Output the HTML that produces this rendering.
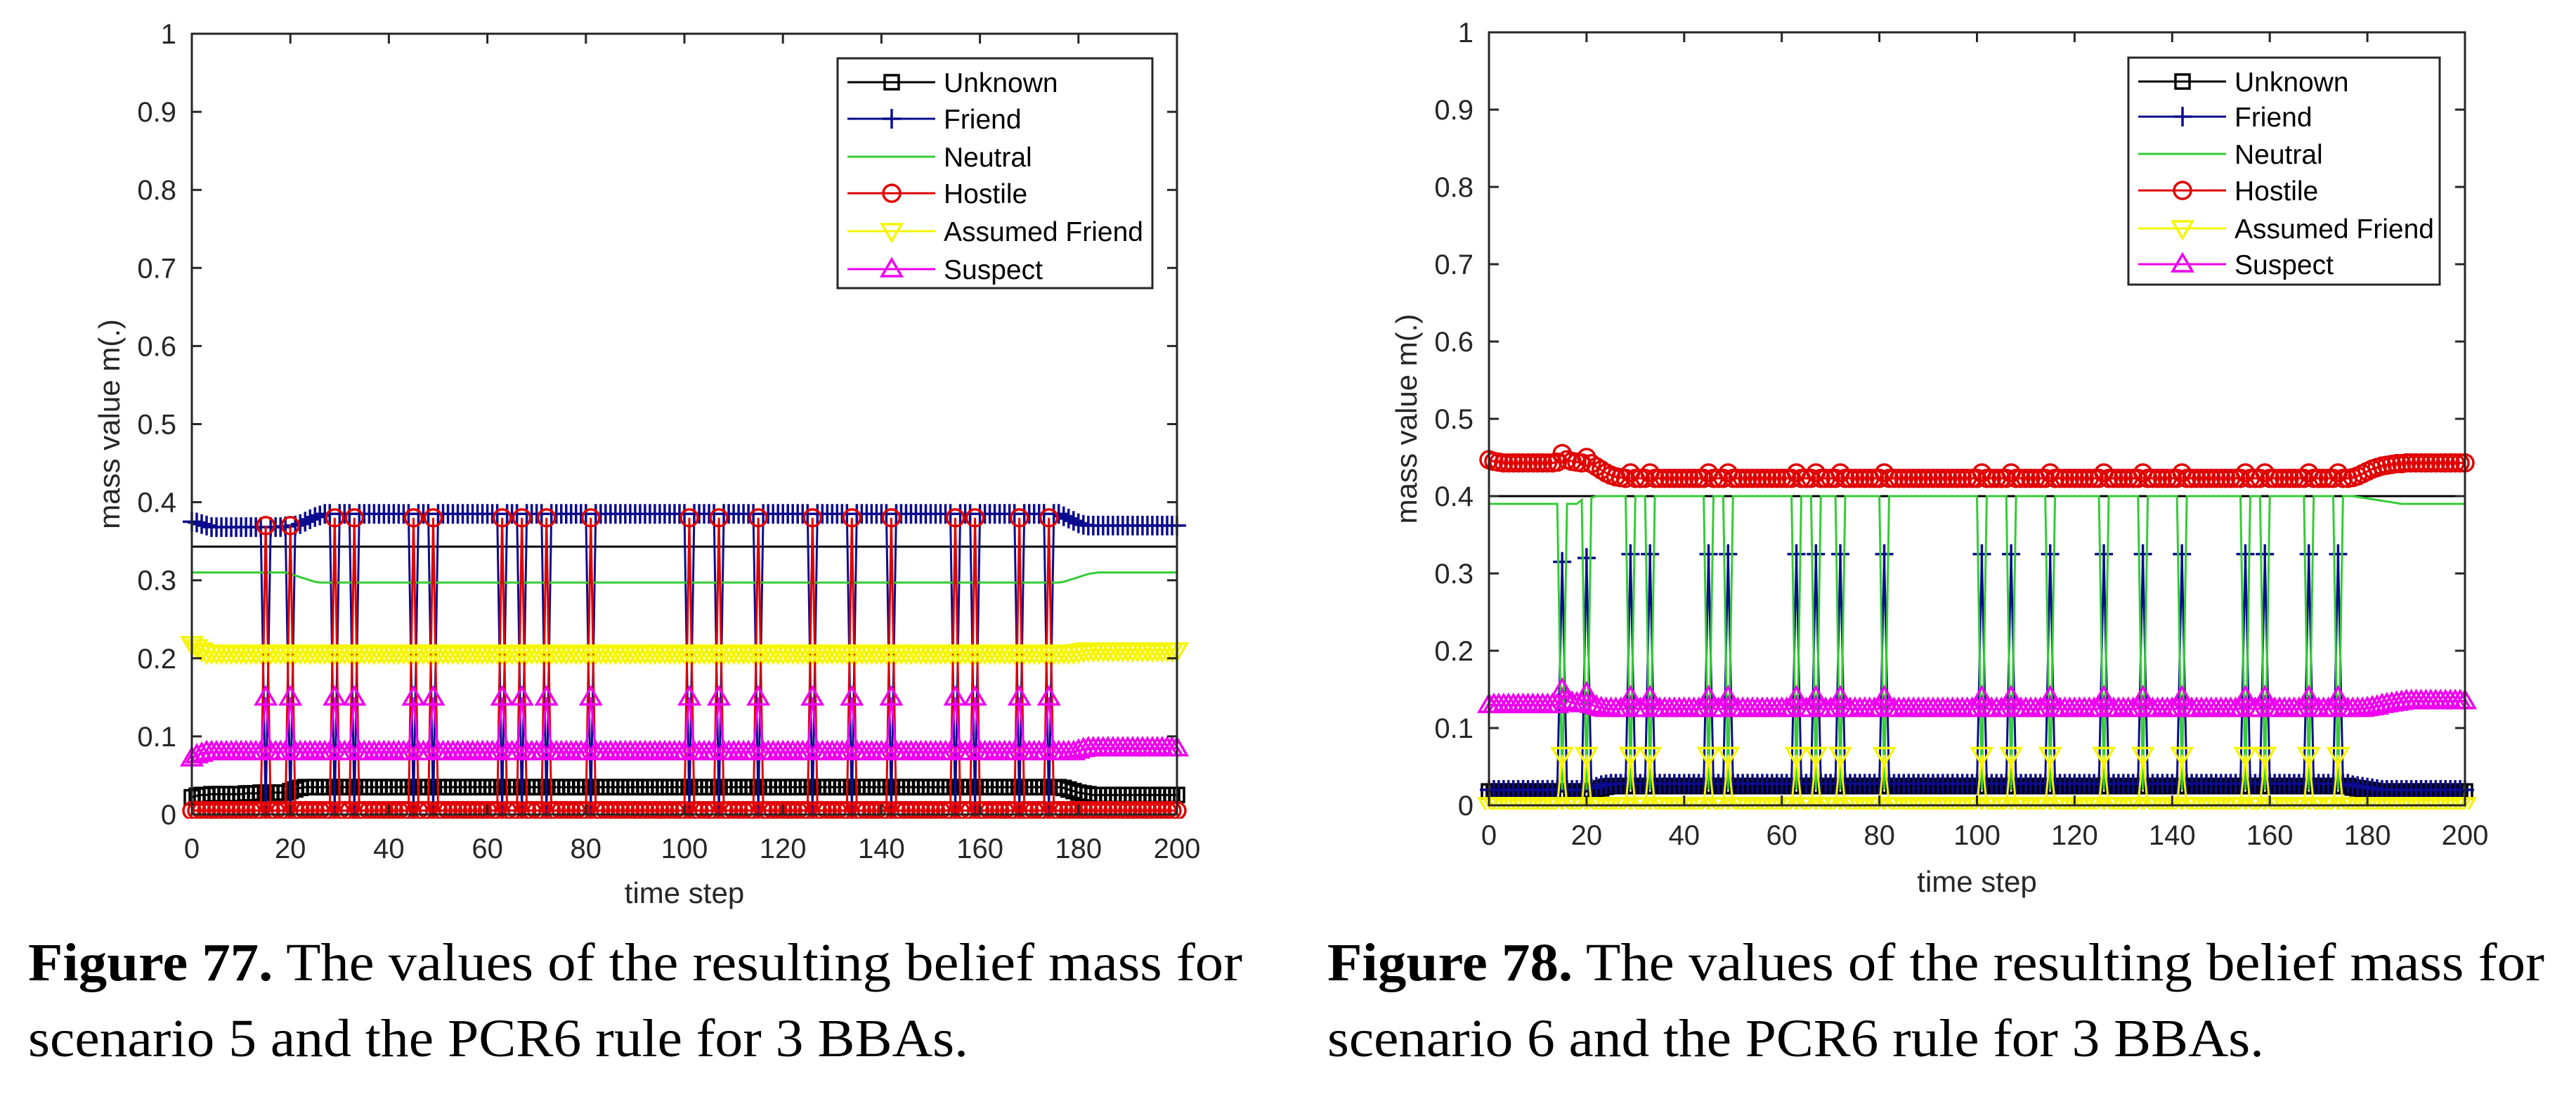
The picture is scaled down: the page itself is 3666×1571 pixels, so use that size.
<!DOCTYPE html>
<html><head><meta charset="utf-8"><style>
html,body{margin:0;padding:0;background:#fff;}
svg{display:block;}
</style></head><body>
<svg id="fig" width="3666" height="1571" viewBox="0 0 3666 1571" xmlns="http://www.w3.org/2000/svg">
<rect x="0" y="0" width="3666" height="1571" fill="#fff"/>
<g id="p5"></g>
<g id="p6"></g>
<text x="40" y="1395" font-family="Liberation Serif, serif" font-size="76" fill="#000" textLength="1728" lengthAdjust="spacingAndGlyphs"><tspan font-weight="bold">Figure 77.</tspan> The values of the resulting belief mass for</text>
<text x="40" y="1503" font-family="Liberation Serif, serif" font-size="76" fill="#000" textLength="1338" lengthAdjust="spacingAndGlyphs">scenario 5 and the PCR6 rule for 3 BBAs.</text>
<text x="1889" y="1395" font-family="Liberation Serif, serif" font-size="76" fill="#000" textLength="1732" lengthAdjust="spacingAndGlyphs"><tspan font-weight="bold">Figure 78.</tspan> The values of the resulting belief mass for</text>
<text x="1889" y="1503" font-family="Liberation Serif, serif" font-size="76" fill="#000" textLength="1333" lengthAdjust="spacingAndGlyphs">scenario 6 and the PCR6 rule for 3 BBAs.</text>
</svg>
<script>
// ---- data: time steps 0..200 ----
const xTicks = [0,20,40,60,80,100,120,140,160,180,200];
const yTicks = [0,0.1,0.2,0.3,0.4,0.5,0.6,0.7,0.8,0.9,1];
const yTickLabels = ["0","0.1","0.2","0.3","0.4","0.5","0.6","0.7","0.8","0.9","1"];
const seriesNames = ["Unknown","Friend","Neutral","Hostile","Assumed Friend","Suspect"];

// Scenario 5
const unknown5 = [
.022,.024,.025,.025,.026,.026,.026,.026,.026,.026,
.026,.027,.027,.027,.028,.028,.028,.028,.028,.028,
.03,.032,.034,.035,.035,.035,.035,.035,.035,.035,
.035,.035,.035,.035,.035,.035,.035,.035,.035,.035,
.035,.035,.035,.035,.035,.035,.035,.035,.035,.035,
.035,.035,.035,.035,.035,.035,.035,.035,.035,.035,
.035,.035,.035,.035,.035,.035,.035,.035,.035,.035,
.035,.035,.035,.035,.035,.035,.035,.035,.035,.035,
.035,.035,.035,.035,.035,.035,.035,.035,.035,.035,
.035,.035,.035,.035,.035,.035,.035,.035,.035,.035,
.035,.035,.035,.035,.035,.035,.035,.035,.035,.035,
.035,.035,.035,.035,.035,.035,.035,.035,.035,.035,
.035,.035,.035,.035,.035,.035,.035,.035,.035,.035,
.035,.035,.035,.035,.035,.035,.035,.035,.035,.035,
.035,.035,.035,.035,.035,.035,.035,.035,.035,.035,
.035,.035,.035,.035,.035,.035,.035,.035,.035,.035,
.035,.035,.035,.035,.035,.035,.035,.035,.035,.035,
.035,.035,.035,.035,.035,.035,.035,.034,.032,.03,
.028,.027,.026,.025,.025,.025,.025,.025,.025,.025,
.025,.025,.025,.025,.025,.025,.025,.025,.025,.025,
.025];
const friend5 = [
.375,.374,.372,.37,.368,.368,.368,.368,.368,.368,
.368,.368,.368,.368,.368,.005,.368,.368,.368,.369,
.005,.37,.372,.375,.378,.381,.383,.385,.385,.005,
.385,.385,.385,.005,.385,.385,.385,.385,.385,.385,
.385,.385,.385,.385,.385,.005,.385,.385,.385,.005,
.385,.385,.385,.385,.385,.385,.385,.385,.385,.385,
.385,.385,.385,.005,.385,.385,.385,.005,.385,.385,
.385,.385,.005,.385,.385,.385,.385,.385,.385,.385,
.385,.005,.385,.385,.385,.385,.385,.385,.385,.385,
.385,.385,.385,.385,.385,.385,.385,.385,.385,.385,
.385,.005,.385,.385,.385,.385,.385,.005,.385,.385,
.385,.385,.385,.385,.385,.005,.385,.385,.385,.385,
.385,.385,.385,.385,.385,.385,.005,.385,.385,.385,
.385,.385,.385,.385,.005,.385,.385,.385,.385,.385,
.385,.385,.005,.385,.385,.385,.385,.385,.385,.385,
.385,.385,.385,.385,.385,.005,.385,.385,.385,.005,
.385,.385,.385,.385,.385,.385,.385,.385,.005,.385,
.385,.385,.385,.385,.005,.385,.385,.382,.379,.376,
.373,.371,.37,.37,.37,.37,.37,.37,.37,.37,
.37,.37,.37,.37,.37,.37,.37,.37,.37,.37,
.37];
const neutral5 = [
.31,.31,.31,.31,.31,.31,.31,.31,.31,.31,
.31,.31,.31,.31,.31,.31,.31,.31,.31,.31,
.308,.306,.304,.302,.3,.298,.297,.297,.297,.297,
.297,.297,.297,.297,.297,.297,.297,.297,.297,.297,
.297,.297,.297,.297,.297,.297,.297,.297,.297,.297,
.297,.297,.297,.297,.297,.297,.297,.297,.297,.297,
.297,.297,.297,.297,.297,.297,.297,.297,.297,.297,
.297,.297,.297,.297,.297,.297,.297,.297,.297,.297,
.297,.297,.297,.297,.297,.297,.297,.297,.297,.297,
.297,.297,.297,.297,.297,.297,.297,.297,.297,.297,
.297,.297,.297,.297,.297,.297,.297,.297,.297,.297,
.297,.297,.297,.297,.297,.297,.297,.297,.297,.297,
.297,.297,.297,.297,.297,.297,.297,.297,.297,.297,
.297,.297,.297,.297,.297,.297,.297,.297,.297,.297,
.297,.297,.297,.297,.297,.297,.297,.297,.297,.297,
.297,.297,.297,.297,.297,.297,.297,.297,.297,.297,
.297,.297,.297,.297,.297,.297,.297,.297,.297,.297,
.297,.297,.297,.297,.297,.297,.297,.298,.3,.302,
.304,.306,.308,.309,.31,.31,.31,.31,.31,.31,
.31,.31,.31,.31,.31,.31,.31,.31,.31,.31,
.31];
const hostile5 = [
.005,.005,.005,.005,.005,.005,.005,.005,.005,.005,
.005,.005,.005,.005,.005,.37,.005,.005,.005,.005,
.37,.005,.005,.005,.005,.005,.005,.005,.005,.38,
.005,.005,.005,.38,.005,.005,.005,.005,.005,.005,
.005,.005,.005,.005,.005,.38,.005,.005,.005,.38,
.005,.005,.005,.005,.005,.005,.005,.005,.005,.005,
.005,.005,.005,.38,.005,.005,.005,.38,.005,.005,
.005,.005,.38,.005,.005,.005,.005,.005,.005,.005,
.005,.38,.005,.005,.005,.005,.005,.005,.005,.005,
.005,.005,.005,.005,.005,.005,.005,.005,.005,.005,
.005,.38,.005,.005,.005,.005,.005,.38,.005,.005,
.005,.005,.005,.005,.005,.38,.005,.005,.005,.005,
.005,.005,.005,.005,.005,.005,.38,.005,.005,.005,
.005,.005,.005,.005,.38,.005,.005,.005,.005,.005,
.005,.005,.38,.005,.005,.005,.005,.005,.005,.005,
.005,.005,.005,.005,.005,.38,.005,.005,.005,.38,
.005,.005,.005,.005,.005,.005,.005,.005,.38,.005,
.005,.005,.005,.005,.38,.005,.005,.005,.005,.005,
.005,.005,.005,.005,.005,.005,.005,.005,.005,.005,
.005,.005,.005,.005,.005,.005,.005,.005,.005,.005,
.005];
const assumed5 = [
.218,.214,.21,.207,.207,.207,.207,.207,.207,.207,
.207,.207,.207,.207,.207,.207,.207,.207,.207,.207,
.207,.207,.207,.207,.207,.207,.207,.207,.207,.207,
.207,.207,.207,.207,.207,.207,.207,.207,.207,.207,
.207,.207,.207,.207,.207,.207,.207,.207,.207,.207,
.207,.207,.207,.207,.207,.207,.207,.207,.207,.207,
.207,.207,.207,.207,.207,.207,.207,.207,.207,.207,
.207,.207,.207,.207,.207,.207,.207,.207,.207,.207,
.207,.207,.207,.207,.207,.207,.207,.207,.207,.207,
.207,.207,.207,.207,.207,.207,.207,.207,.207,.207,
.207,.207,.207,.207,.207,.207,.207,.207,.207,.207,
.207,.207,.207,.207,.207,.207,.207,.207,.207,.207,
.207,.207,.207,.207,.207,.207,.207,.207,.207,.207,
.207,.207,.207,.207,.207,.207,.207,.207,.207,.207,
.207,.207,.207,.207,.207,.207,.207,.207,.207,.207,
.207,.207,.207,.207,.207,.207,.207,.207,.207,.207,
.207,.207,.207,.207,.207,.207,.207,.207,.207,.207,
.207,.207,.207,.207,.207,.207,.207,.207,.207,.207,
.208,.209,.21,.21,.21,.21,.21,.21,.21,.21,
.21,.21,.21,.21,.21,.21,.21,.21,.21,.21,
.21];
const suspect5 = [
.072,.076,.078,.08,.08,.08,.08,.08,.08,.08,
.08,.08,.08,.08,.08,.15,.08,.08,.08,.08,
.15,.08,.08,.08,.08,.08,.08,.08,.08,.15,
.08,.08,.08,.15,.08,.08,.08,.08,.08,.08,
.08,.08,.08,.08,.08,.15,.08,.08,.08,.15,
.08,.08,.08,.08,.08,.08,.08,.08,.08,.08,
.08,.08,.08,.15,.08,.08,.08,.15,.08,.08,
.08,.08,.15,.08,.08,.08,.08,.08,.08,.08,
.08,.15,.08,.08,.08,.08,.08,.08,.08,.08,
.08,.08,.08,.08,.08,.08,.08,.08,.08,.08,
.08,.15,.08,.08,.08,.08,.08,.15,.08,.08,
.08,.08,.08,.08,.08,.15,.08,.08,.08,.08,
.08,.08,.08,.08,.08,.08,.15,.08,.08,.08,
.08,.08,.08,.08,.15,.08,.08,.08,.08,.08,
.08,.08,.15,.08,.08,.08,.08,.08,.08,.08,
.08,.08,.08,.08,.08,.15,.08,.08,.08,.15,
.08,.08,.08,.08,.08,.08,.08,.08,.15,.08,
.08,.08,.08,.08,.15,.08,.08,.08,.08,.08,
.082,.084,.085,.085,.085,.085,.085,.085,.085,.085,
.085,.085,.085,.085,.085,.085,.085,.085,.085,.085,
.085];
const refLineT5 = [0,200];
const refLine5 = [0.343,0.343];

// Scenario 6
const unknown6 = [
.018,.018,.018,.018,.018,.018,.018,.018,.018,.018,
.018,.018,.018,.018,.018,.018,.018,.018,.018,.018,
.018,.019,.02,.022,.024,.025,.025,.025,.025,.025,
.025,.025,.025,.025,.025,.025,.025,.025,.025,.025,
.025,.025,.025,.025,.025,.025,.025,.025,.025,.025,
.025,.025,.025,.025,.025,.025,.025,.025,.025,.025,
.025,.025,.025,.025,.025,.025,.025,.025,.025,.025,
.025,.025,.025,.025,.025,.025,.025,.025,.025,.025,
.025,.025,.025,.025,.025,.025,.025,.025,.025,.025,
.025,.025,.025,.025,.025,.025,.025,.025,.025,.025,
.025,.025,.025,.025,.025,.025,.025,.025,.025,.025,
.025,.025,.025,.025,.025,.025,.025,.025,.025,.025,
.025,.025,.025,.025,.025,.025,.025,.025,.025,.025,
.025,.025,.025,.025,.025,.025,.025,.025,.025,.025,
.025,.025,.025,.025,.025,.025,.025,.025,.025,.025,
.025,.025,.025,.025,.025,.025,.025,.025,.025,.025,
.025,.025,.025,.025,.025,.025,.025,.025,.025,.025,
.025,.025,.025,.025,.025,.025,.025,.023,.022,.021,
.02,.019,.018,.018,.018,.018,.018,.018,.018,.018,
.018,.018,.018,.018,.018,.018,.018,.018,.018,.018,
.018];
const friend6 = [
.02,.02,.02,.02,.02,.02,.02,.02,.02,.02,
.02,.02,.02,.02,.02,.315,.02,.02,.02,.02,
.32,.022,.024,.026,.027,.028,.028,.028,.028,.325,
.028,.028,.028,.325,.028,.028,.028,.028,.028,.028,
.028,.028,.028,.028,.028,.325,.028,.028,.028,.325,
.028,.028,.028,.028,.028,.028,.028,.028,.028,.028,
.028,.028,.028,.325,.028,.028,.028,.325,.028,.028,
.028,.028,.325,.028,.028,.028,.028,.028,.028,.028,
.028,.325,.028,.028,.028,.028,.028,.028,.028,.028,
.028,.028,.028,.028,.028,.028,.028,.028,.028,.028,
.028,.325,.028,.028,.028,.028,.028,.325,.028,.028,
.028,.028,.028,.028,.028,.325,.028,.028,.028,.028,
.028,.028,.028,.028,.028,.028,.325,.028,.028,.028,
.028,.028,.028,.028,.325,.028,.028,.028,.028,.028,
.028,.028,.325,.028,.028,.028,.028,.028,.028,.028,
.028,.028,.028,.028,.028,.325,.028,.028,.028,.325,
.028,.028,.028,.028,.028,.028,.028,.028,.325,.028,
.028,.028,.028,.028,.325,.028,.028,.026,.025,.024,
.023,.022,.021,.02,.02,.02,.02,.02,.02,.02,
.02,.02,.02,.02,.02,.02,.02,.02,.02,.02,
.02];
const neutral6 = [
.39,.39,.39,.39,.39,.39,.39,.39,.39,.39,
.39,.39,.39,.39,.39,.02,.39,.39,.39,.395,
.02,.398,.4,.4,.4,.4,.4,.4,.4,.02,
.4,.4,.4,.02,.4,.4,.4,.4,.4,.4,
.4,.4,.4,.4,.4,.02,.4,.4,.4,.02,
.4,.4,.4,.4,.4,.4,.4,.4,.4,.4,
.4,.4,.4,.02,.4,.4,.4,.02,.4,.4,
.4,.4,.02,.4,.4,.4,.4,.4,.4,.4,
.4,.02,.4,.4,.4,.4,.4,.4,.4,.4,
.4,.4,.4,.4,.4,.4,.4,.4,.4,.4,
.4,.02,.4,.4,.4,.4,.4,.02,.4,.4,
.4,.4,.4,.4,.4,.02,.4,.4,.4,.4,
.4,.4,.4,.4,.4,.4,.02,.4,.4,.4,
.4,.4,.4,.4,.02,.4,.4,.4,.4,.4,
.4,.4,.02,.4,.4,.4,.4,.4,.4,.4,
.4,.4,.4,.4,.4,.02,.4,.4,.4,.02,
.4,.4,.4,.4,.4,.4,.4,.4,.02,.4,
.4,.4,.4,.4,.02,.4,.4,.4,.399,.398,
.397,.396,.395,.394,.393,.392,.391,.39,.39,.39,
.39,.39,.39,.39,.39,.39,.39,.39,.39,.39,
.39];
const hostile6 = [
.447,.445,.444,.443,.443,.443,.443,.443,.443,.443,
.443,.443,.443,.443,.444,.455,.447,.445,.444,.443,
.45,.442,.438,.434,.43,.427,.425,.424,.423,.43,
.423,.423,.423,.43,.423,.423,.423,.423,.423,.423,
.423,.423,.423,.423,.423,.43,.423,.423,.423,.43,
.423,.423,.423,.423,.423,.423,.423,.423,.423,.423,
.423,.423,.423,.43,.423,.423,.423,.43,.423,.423,
.423,.423,.43,.423,.423,.423,.423,.423,.423,.423,
.423,.43,.423,.423,.423,.423,.423,.423,.423,.423,
.423,.423,.423,.423,.423,.423,.423,.423,.423,.423,
.423,.43,.423,.423,.423,.423,.423,.43,.423,.423,
.423,.423,.423,.423,.423,.43,.423,.423,.423,.423,
.423,.423,.423,.423,.423,.423,.43,.423,.423,.423,
.423,.423,.423,.423,.43,.423,.423,.423,.423,.423,
.423,.423,.43,.423,.423,.423,.423,.423,.423,.423,
.423,.423,.423,.423,.423,.43,.423,.423,.423,.43,
.423,.423,.423,.423,.423,.423,.423,.423,.43,.423,
.423,.423,.423,.423,.43,.423,.423,.424,.426,.429,
.432,.435,.437,.439,.44,.441,.442,.442,.443,.443,
.443,.443,.443,.443,.443,.443,.443,.443,.443,.443,
.443];
const assumed6 = [
0,0,0,0,0,0,0,0,0,0,
0,0,0,0,0,.065,0,0,0,0,
.065,0,0,0,0,0,0,0,0,.065,
0,0,0,.065,0,0,0,0,0,0,
0,0,0,0,0,.065,0,0,0,.065,
0,0,0,0,0,0,0,0,0,0,
0,0,0,.065,0,0,0,.065,0,0,
0,0,.065,0,0,0,0,0,0,0,
0,.065,0,0,0,0,0,0,0,0,
0,0,0,0,0,0,0,0,0,0,
0,.065,0,0,0,0,0,.065,0,0,
0,0,0,0,0,.065,0,0,0,0,
0,0,0,0,0,0,.065,0,0,0,
0,0,0,0,.065,0,0,0,0,0,
0,0,.065,0,0,0,0,0,0,0,
0,0,0,0,0,.065,0,0,0,.065,
0,0,0,0,0,0,0,0,.065,0,
0,0,0,0,.065,0,0,0,0,0,
0,0,0,0,0,0,0,0,0,0,
0,0,0,0,0,0,0,0,0,0,
0];
const suspect6 = [
.13,.13,.13,.13,.13,.13,.13,.13,.13,.13,
.13,.13,.13,.13,.13,.15,.135,.133,.132,.131,
.145,.13,.128,.126,.125,.125,.125,.125,.125,.14,
.125,.125,.125,.14,.125,.125,.125,.125,.125,.125,
.125,.125,.125,.125,.125,.14,.125,.125,.125,.14,
.125,.125,.125,.125,.125,.125,.125,.125,.125,.125,
.125,.125,.125,.14,.125,.125,.125,.14,.125,.125,
.125,.125,.14,.125,.125,.125,.125,.125,.125,.125,
.125,.14,.125,.125,.125,.125,.125,.125,.125,.125,
.125,.125,.125,.125,.125,.125,.125,.125,.125,.125,
.125,.14,.125,.125,.125,.125,.125,.14,.125,.125,
.125,.125,.125,.125,.125,.14,.125,.125,.125,.125,
.125,.125,.125,.125,.125,.125,.14,.125,.125,.125,
.125,.125,.125,.125,.14,.125,.125,.125,.125,.125,
.125,.125,.14,.125,.125,.125,.125,.125,.125,.125,
.125,.125,.125,.125,.125,.14,.125,.125,.125,.14,
.125,.125,.125,.125,.125,.125,.125,.125,.14,.125,
.125,.125,.125,.125,.14,.125,.125,.125,.125,.125,
.126,.127,.128,.13,.131,.132,.133,.134,.135,.135,
.135,.135,.135,.135,.135,.135,.135,.135,.135,.135,
.135];
const refLineT6 = [0,200];
const refLine6 = [0.4,0.4];

// ---- drawing ----
const NS = "http://www.w3.org/2000/svg";
const FONT = "Liberation Sans, Arial, sans-serif";
function mk(tag, attrs, parent){
  const e = document.createElementNS(NS, tag);
  for (const k in attrs) e.setAttribute(k, attrs[k]);
  parent.appendChild(e);
  return e;
}
const styles = [
  {color:"#000000", marker:"square"},
  {color:"#0b0b8f", marker:"plus"},
  {color:"#33cc33", marker:"none"},
  {color:"#e00000", marker:"circle"},
  {color:"#f5f500", marker:"tridown"},
  {color:"#ee00ee", marker:"triup"}
];
function drawMarker(g, type, cx, cy, color){
  let m = null;
  if (type === "square") m = mk("rect",{x:cx-10,y:cy-10,width:20,height:20,fill:"none",stroke:color,"stroke-width":3.5},g);
  else if (type === "circle") m = mk("circle",{cx:cx,cy:cy,r:12,fill:"none",stroke:color,"stroke-width":3.5},g);
  else if (type === "plus") m = mk("path",{d:`M${cx-13},${cy}H${cx+13}M${cx},${cy-14}V${cy+14}`,fill:"none",stroke:color,"stroke-width":3.5},g);
  else if (type === "triup") m = mk("path",{d:`M${cx},${cy-14}L${cx+14},${cy+10}L${cx-14},${cy+10}Z`,fill:"none",stroke:color,"stroke-width":3.5},g);
  else if (type === "tridown") m = mk("path",{d:`M${cx},${cy+14}L${cx+14},${cy-10}L${cx-14},${cy-10}Z`,fill:"none",stroke:color,"stroke-width":3.5},g);
  return m;
}
function drawChart(cfg){
  const root = document.getElementById(cfg.id);
  const xS = v => cfg.x0 + (v/200)*(cfg.x1-cfg.x0);
  const yS = v => cfg.y0 - v*(cfg.y0-cfg.y1);
  for (let s=0; s<cfg.series.length; s++){
    const vals = cfg.series[s], st = styles[s];
    const g = mk("g",{},root);
    
    
    const pts = vals.map((v,i)=>xS(i).toFixed(1)+","+yS(v).toFixed(1)).join(" ");
    const line = mk("polyline",{points:pts,fill:"none",stroke:st.color,"stroke-width":3},g);
    
    
    if (st.marker !== "none"){
      vals.forEach((v,i)=>{
        const m = drawMarker(g, st.marker, xS(i), yS(v), st.color);
        
        
      });
    }
    if (s === 0){
      const rp = cfg.refT.map((t,i)=>xS(t)+","+yS(cfg.ref[i])).join(" ");
      const rl = mk("polyline",{points:rp,fill:"none",stroke:"#000","stroke-width":3},root);
      
      
    }
  }
  const masks = mk("g",{fill:"#fff"},root);
  mk("rect",{x:cfg.x0-60,y:cfg.y0+6,width:cfg.x1-cfg.x0+120,height:26},masks);
  const box = mk("rect",{x:cfg.x0,y:cfg.y1,width:cfg.x1-cfg.x0,height:cfg.y0-cfg.y1,fill:"none",stroke:"#262626","stroke-width":3},root);
  
  
  xTicks.forEach(t=>{
    const x = xS(t);
    mk("path",{d:`M${x},${cfg.y0}V${cfg.y0-14}M${x},${cfg.y1}V${cfg.y1+14}`,stroke:"#262626","stroke-width":3},root);
    const lb = mk("text",{x:x,y:cfg.xLabY,"text-anchor":"middle","font-family":FONT,"font-size":40,fill:"#262626"},root);
    lb.textContent = String(t);
    
    
  });
  yTicks.forEach((v,i)=>{
    const y = yS(v);
    mk("path",{d:`M${cfg.x0},${y}H${cfg.x0+14}M${cfg.x1},${y}H${cfg.x1-14}`,stroke:"#262626","stroke-width":3},root);
    const lb = mk("text",{x:cfg.x0-22,y:y+14,"text-anchor":"end","font-family":FONT,"font-size":40,fill:"#262626"},root);
    lb.textContent = yTickLabels[i];
    
    
  });
  const xt = mk("text",{x:(cfg.x0+cfg.x1)/2,y:cfg.xTitleY,"text-anchor":"middle","font-family":FONT,"font-size":42,fill:"#262626"},root);
  xt.textContent = "time step";
  
  
  const yt = mk("text",{x:0,y:0,"text-anchor":"middle","font-family":FONT,"font-size":42,fill:"#262626",transform:`translate(${cfg.x0-103},${(cfg.y0+cfg.y1)/2}) rotate(-90)`},root);
  yt.textContent = "mass value m(.)";
  
  
  const lg = mk("g",{},root);
  
  
  mk("rect",{x:cfg.lx0,y:cfg.ly0,width:cfg.lx1-cfg.lx0,height:cfg.ly1-cfg.ly0,fill:"#fff",stroke:"#262626","stroke-width":3},lg);
  cfg.rows.forEach((ry,i)=>{
    const e = mk("g",{},lg);
    
    
    mk("path",{d:`M${cfg.lx0+14},${ry}H${cfg.lx0+139}`,stroke:styles[i].color,"stroke-width":3},e);
    if (styles[i].marker!=="none") drawMarker(e, styles[i].marker, cfg.lx0+77, ry, styles[i].color);
    const t = mk("text",{x:cfg.lx0+151,y:ry+14,"font-family":FONT,"font-size":39,fill:"#000"},e);
    t.textContent = seriesNames[i];
  });
}
drawChart({id:"p5",x0:273,x1:1675,y0:1159,y1:48,xLabY:1221,xTitleY:1285,
  series:[unknown5,friend5,neutral5,hostile5,assumed5,suspect5],refT:refLineT5,ref:refLine5,
  lx0:1192,lx1:1640,ly0:83,ly1:410,rows:[117,169,223,275,329,383]});
drawChart({id:"p6",x0:2119,x1:3508,y0:1146,y1:46,xLabY:1202,xTitleY:1269,
  series:[unknown6,friend6,neutral6,hostile6,assumed6,suspect6],refT:refLineT6,ref:refLine6,
  lx0:3029,lx1:3472,ly0:82,ly1:405,rows:[116,166,219,271,325,376]});
</script>
</body></html>
